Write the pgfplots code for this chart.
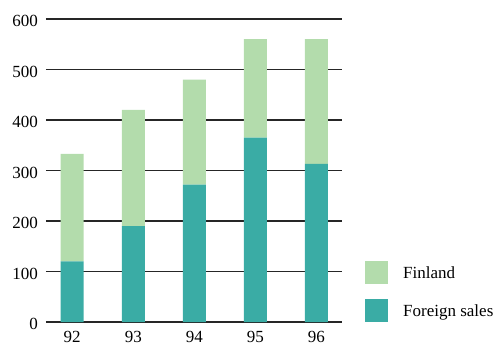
\documentclass[border=0pt]{standalone}
\usepackage{pgfplots}
\pgfplotsset{compat=1.18}
\usepackage{fontspec}
\setmainfont{Liberation Serif}
\definecolor{fin}{HTML}{B3DCAC}
\definecolor{foreign}{HTML}{3AACA5}
\begin{document}
\fontsize{17}{20}\selectfont
\begin{tikzpicture}
\begin{axis}[
  scale only axis, width=296pt, height=303pt,
  ybar stacked, bar width=23pt,
  xmin=-0.43, xmax=4.42, ymin=0, ymax=600,
  xtick={0,1,2,3,4}, xticklabels={92,93,94,95,96},
  ytick={0,100,...,600},
  major tick length=0pt,
  axis line style={draw=none},
  ymajorgrids, grid style={black!85, line width=1.2pt},
  /pgf/number format/assume math mode=true,
  ticklabel style={font=\fontsize{17}{20}\selectfont},
  yticklabel style={inner sep=0pt, xshift=-8pt, yshift=-2pt},
  xticklabel style={inner sep=0pt, yshift=-9pt},
  reverse legend,
  legend cell align=left,
  legend style={at={(axis description cs:1.0777,0.2013)}, anchor=north west,
    draw=none, fill=none, inner sep=0pt, row sep=15pt, column sep=15pt,
    nodes={inner sep=0pt}, font=\fontsize{17}{20}\selectfont},
  legend image code/.code={\fill[#1] (0pt,-10pt) rectangle (23pt,13pt);},
]
\addplot[fill=foreign, draw=none] coordinates {(0,120) (1,190) (2,272) (3,365) (4,313)};
\addlegendentry{Foreign sales}
\addplot[fill=fin, draw=none] coordinates {(0,213) (1,230) (2,208) (3,195) (4,247)};
\addlegendentry{Finland}
\end{axis}
\pgfresetboundingbox
\path (-46pt,-24pt) rectangle (449pt,322pt);
\end{tikzpicture}
\end{document}
